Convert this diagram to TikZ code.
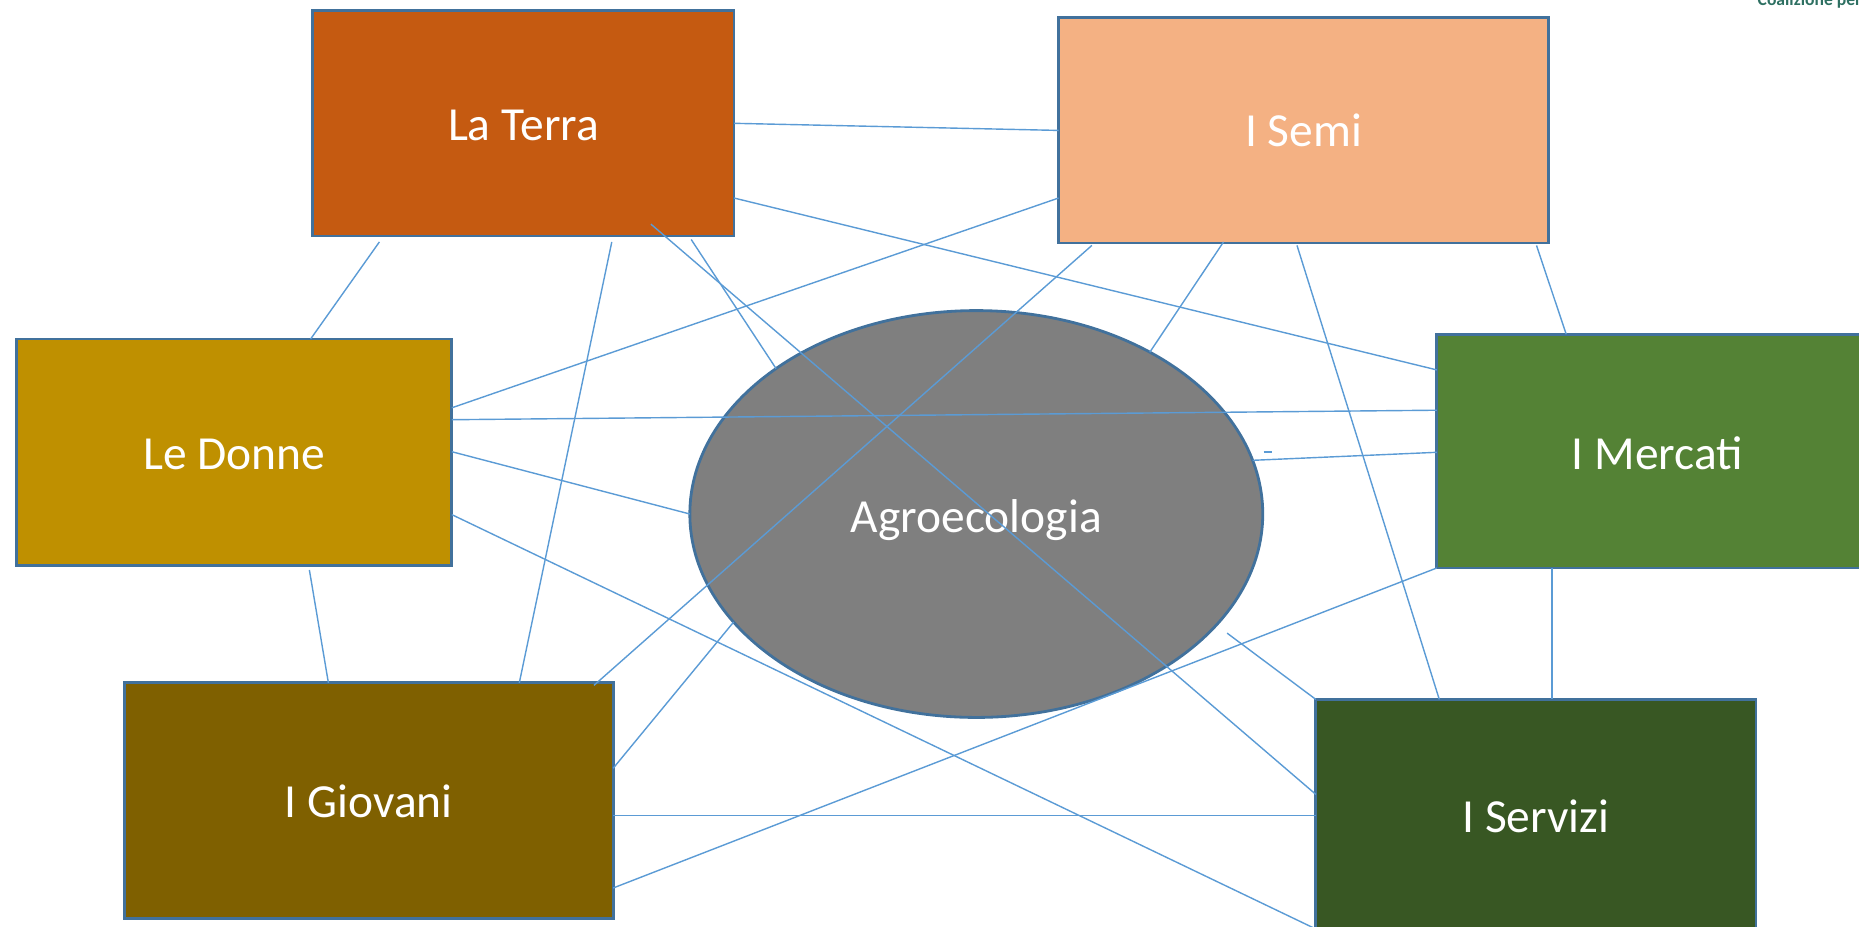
\documentclass[tikz,border=0pt]{standalone}
\usepackage{fontspec}
\setmainfont{Carlito}
\usetikzlibrary{shapes.geometric,calc}
\definecolor{bordc}{HTML}{41719C}
\definecolor{linkc}{HTML}{5B9BD5}
\definecolor{terrac}{HTML}{C55A11}
\definecolor{semic}{HTML}{F4B183}
\definecolor{donnec}{HTML}{BF9000}
\definecolor{mercatic}{HTML}{548235}
\definecolor{giovanic}{HTML}{7F6000}
\definecolor{servizic}{HTML}{385723}
\definecolor{agroc}{HTML}{7F7F7F}
\definecolor{coalc}{HTML}{2E7062}
\newcommand{\lowertext}[2]{\raisebox{-#1}[\height][\depth]{#2}}
\begin{document}
\begin{tikzpicture}[x=0.01cm,y=-0.01cm,
  box/.style={draw=bordc, line width=0.8pt, outer sep=0pt, inner sep=0pt, text=white,
    font=\fontsize{13.5}{16}\selectfont},
  link/.style={draw=linkc, line width=0.4pt}]
\useasboundingbox (0,0) rectangle (1859,926);
\node[box, fill=terrac, minimum width=4.209cm, minimum height=2.252cm] (terra) at (523.45,123.3) {\lowertext{0.025cm}{La Terra}};
\node[box, fill=semic, minimum width=4.897cm, minimum height=2.252cm] (semi) at (1303.55,130.4) {I Semi};
\node[box, fill=donnec, minimum width=4.351cm, minimum height=2.264cm] (donne) at (234.15,452.3) {\lowertext{0.025cm}{Le Donne}};
\node[box, fill=mercatic, minimum width=4.411cm, minimum height=2.336cm] (mercati) at (1657.45,451.1) {\lowertext{0.025cm}{I Mercati}};
\node[box, fill=giovanic, minimum width=4.885cm, minimum height=2.359cm] (giovani) at (368.75,800.85) {I Giovani};
\node[box, fill=servizic, minimum width=4.399cm, minimum height=2.345cm] (servizi) at (1535.95,816.75) {I Servizi};
\node[box, ellipse, fill=agroc, minimum width=5.726cm, minimum height=4.066cm] (agro) at (976.3,514.0) {\lowertext{0.06cm}{Agroecologia}};
\node[anchor=base west, text=coalc, font=\fontsize{5}{6}\bfseries\selectfont, inner sep=0pt] (coal) at (1757,5) {Coalizione per};
\coordinate (f6) at (650.9,224.1);
\coordinate (f21) at (1227.1,633.1);
\coordinate (dashA) at (1263.5,451.8);
\coordinate (dashB) at (1271.5,451.8);
% connectors
\draw[link] (terra.east |- 0,123.3) -- (semi.west |- 0,130.4);
\draw[link] (terra.east |- 0,198.0) -- (mercati.west |- 0,369.9);
\draw[link] (379.4,241.9) -- (donne.north -| 310.6,0);
\draw[link] (611.8,241.9) -- (giovani.north -| 519.3,0);
\draw[link] (691.2,239.5) -- (agro.144.7);
\draw[link] (f6) -- (servizi.west |- 0,794.4);
\draw[link] (semi.west |- 0,198.0) -- (donne.east |- 0,407.8);
\draw[link] (1091.9,245.4) -- (594.0,685.3);
\draw[link] (1223.5,241.9) -- (agro.43.6);
\draw[link] (1297.0,245.4) -- (servizi.north -| 1439.3,0);
\draw[link] (1536.5,245.4) -- (mercati.north -| 1566.2,0);
\draw[link] (donne.east |- 0,419.7) -- (mercati.west |- 0,410.2);
\draw[link] (donne.east |- 0,451.7) -- (agro.west);
\draw[link] (donne.east |- 0,514.6) -- (servizi.west |- 0,929);
\draw[link] (309.4,570.0) -- (giovani.north -| 328.4,0);
\draw[link] (mercati.west |- 0,452.3) -- (agro.11.6);
\draw[link] (dashA) -- (dashB);
\draw[link] (mercati.south west) -- (giovani.east |- 0,888.0);
\draw[link] (mercati.south -| 1551.9,0) -- (servizi.north -| 1551.9,0);
\draw[link] (giovani.east |- 0,815.7) -- (servizi.west |- 0,815.7);
\draw[link] (giovani.east |- 0,768.3) -- (agro.204.7);
\draw[link] (f21) -- (servizi.north west);
\end{tikzpicture}
\end{document}
